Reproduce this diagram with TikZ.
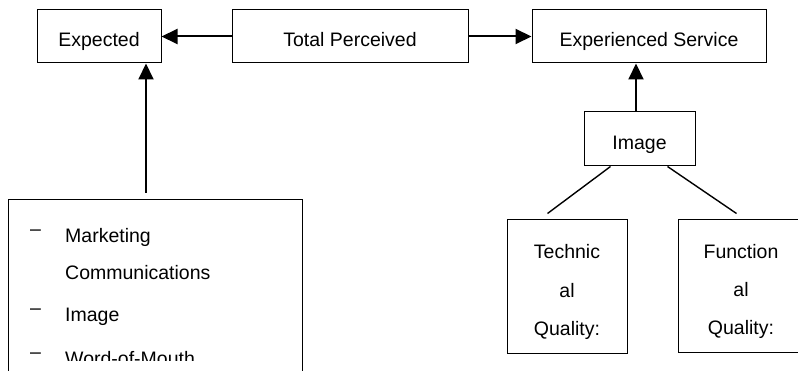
\documentclass[tikz,border=0pt]{standalone}
\usepackage{fontspec}
\setmainfont{Liberation Sans}
\usetikzlibrary{arrows.meta}

\begin{document}
\begin{tikzpicture}[x=1pt,y=-1pt,
  box/.style={draw,line width=1pt,inner sep=0pt,text height=20.5pt,text depth=0pt,
    font=\fontsize{19.5}{23}\selectfont},
  frame/.style={draw,line width=1pt,inner sep=0pt},
  lines/.style={inner sep=0pt,align=center,font=\fontsize{19.5}{38.3}\selectfont},
  item/.style={inner sep=0pt,anchor=base west,font=\fontsize{19.5}{23}\selectfont},
  arr/.style={line width=2pt,-{Triangle[length=16pt,width=15pt]}},
  link/.style={line width=1.4pt}]

\useasboundingbox[fill=white] (0,0) rectangle (798,371);

% top row
\node[box,minimum width=124pt,minimum height=53pt] (exp) at (99,36.5) {Expected};
\node[box,minimum width=236pt,minimum height=53pt] (tot) at (350,36.5) {Total Perceived};
\node[box,minimum width=234pt,minimum height=53pt] (es) at (649,36.5) {Experienced Service};

\draw[arr] (tot.west) -- (exp.east);
\draw[arr] (tot.east) -- (es.west);

% left box, cut off at the bottom
\node[frame,anchor=north west,minimum width=294pt,minimum height=220pt] (infl) at (8,199) {};
\coordinate (a1) at (146,193);
\draw[arr] (a1) -- (a1 |- exp.south);

\begin{scope}
\clip (8,199) rectangle (302,360);
\node[item] (d1) at (30,242.7) {\raisebox{7pt}{–}};
\node[item] (t1) at (65,242.7) {Marketing};
\node[item] (t2) at (65,279.3) {Communications};
\node[item] (d2) at (30,322) {\raisebox{7pt}{–}};
\node[item] (t3) at (65,322) {Image};
\node[item] (d3) at (30,365.5) {\raisebox{7pt}{–}};
\node[item] (t4) at (65,365.5) {Word-of-Mouth};
\end{scope}

% right branch
\node[box,minimum width=111pt,minimum height=54pt] (img) at (639.5,139) {Image};
\draw[arr] ([xshift=-3.5pt]img.north) -- ([xshift=-3.5pt]img.north |- es.south);

\node[frame,minimum width=120pt,minimum height=134pt] (tech) at (567,287) {};
\node[lines] (techtxt) at ([yshift=-5pt]tech.center) {Technic\\al\\Quality:};
\node[frame,minimum width=126pt,minimum height=133pt] (func) at (741,286.5) {};
\node[lines] (functxt) at ([yshift=-5pt]func.center) {Function\\al\\Quality:};

\draw[link] ([xshift=27pt]img.south west) -- ([xshift=41pt,yshift=6pt]tech.north west);
\draw[link] ([xshift=-28pt]img.south east) -- ([xshift=59pt,yshift=6pt]func.north west);

\end{tikzpicture}
\end{document}
